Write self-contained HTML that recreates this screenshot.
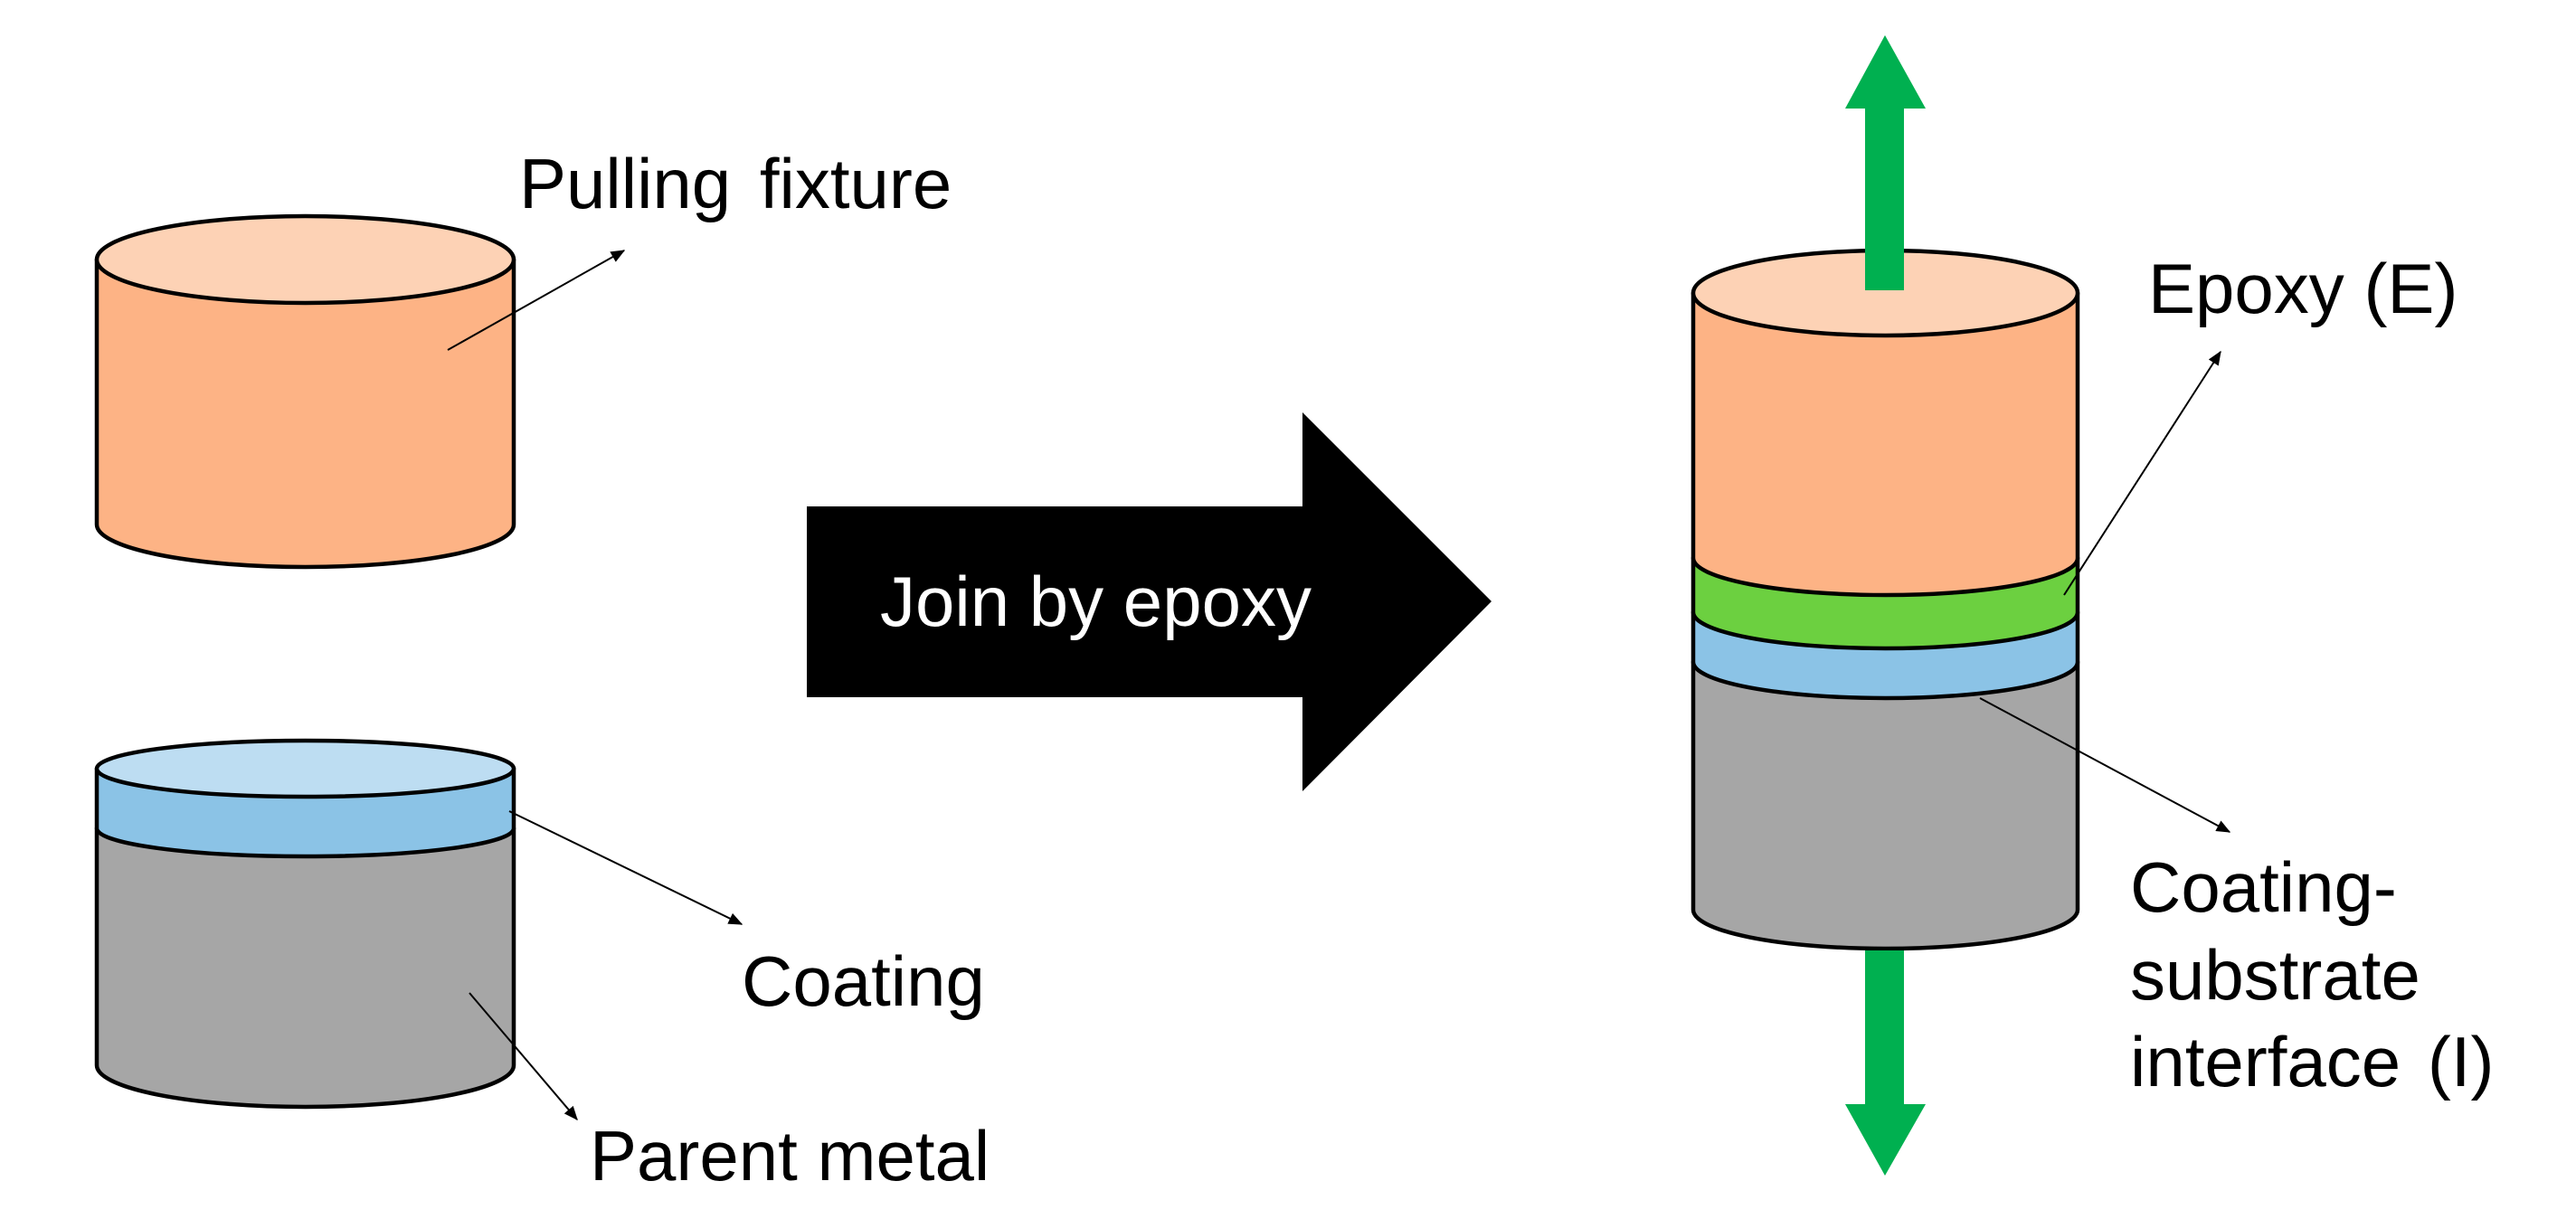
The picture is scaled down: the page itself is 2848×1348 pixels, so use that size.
<!DOCTYPE html>
<html><head><meta charset="utf-8"><style>
html,body{margin:0;padding:0;background:#fff;}
svg{display:block;}
text{font-family:"Liberation Sans",Arial,sans-serif;fill:#000;}
</style></head><body>
<svg width="2848" height="1348" viewBox="0 0 2848 1348" xmlns="http://www.w3.org/2000/svg">
<defs>
<marker id="a2" viewBox="0 0 12 10" refX="11" refY="5" markerWidth="16" markerHeight="13" orient="auto" markerUnits="userSpaceOnUse">
<path d="M0,0 L12,5 L0,10 z" fill="#000"/>
</marker>
</defs>
<g stroke="#000" stroke-width="4.5" stroke-linejoin="round">
<path d="M107,287 L107,580 A230.5,47 0 0 0 568,580 L568,287 Z" fill="#FDB385"/>
<ellipse cx="337.5" cy="287" rx="230.5" ry="48" fill="#FDD2B5"/>
<path d="M107,916 L107,1178 A230.5,46 0 0 0 568,1178 L568,916 Z" fill="#A6A6A6"/>
<path d="M107,850 L107,916 A230.5,31 0 0 0 568,916 L568,850 Z" fill="#8BC3E6"/>
<ellipse cx="337.5" cy="850" rx="230.5" ry="31" fill="#BDDDF2"/>
<path d="M1872,732 L1872,1006 A212.5,43 0 0 0 2297,1006 L2297,732 Z" fill="#A6A6A6"/>
<path d="M1872,677 L1872,732 A212.5,40 0 0 0 2297,732 L2297,677 Z" fill="#8BC3E6"/>
<path d="M1872,617 L1872,677 A212.5,40 0 0 0 2297,677 L2297,617 Z" fill="#6CD040"/>
<path d="M1872,324 L1872,617 A212.5,41 0 0 0 2297,617 L2297,324 Z" fill="#FDB385"/>
<ellipse cx="2084.5" cy="324" rx="212.5" ry="47" fill="#FDD2B5"/>
</g>
<path d="M2062,321 L2062,120 L2040,120 L2084,39 L2129,120 L2105,120 L2105,321 Z" fill="#00B050"/>
<path d="M2062,1051 L2062,1221 L2040,1221 L2084,1300 L2129,1221 L2105,1221 L2105,1051 Z" fill="#00B050"/>
<path d="M892,560 L1440,560 L1440,456 L1649,665 L1440,875 L1440,771 L892,771 Z" fill="#000"/>
<text x="973" y="692" font-size="78" style="fill:#fff">Join by epoxy</text>
<g stroke="#000" stroke-width="2" fill="none">
<line x1="495" y1="387" x2="690" y2="277" marker-end="url(#a2)"/>
<line x1="563" y1="897" x2="820" y2="1022" marker-end="url(#a2)"/>
<line x1="519" y1="1098" x2="638" y2="1238" marker-end="url(#a2)"/>
<line x1="2282" y1="658" x2="2455" y2="389" marker-end="url(#a2)"/>
<line x1="2189" y1="772" x2="2465" y2="920" marker-end="url(#a2)"/>
</g>
<text x="574" y="230" font-size="78" word-spacing="10">Pulling fixture</text>
<text x="820" y="1112" font-size="78">Coating</text>
<text x="652" y="1305" font-size="78">Parent metal</text>
<text x="2375" y="346" font-size="78">Epoxy (E)</text>
<text x="2355" y="1008" font-size="78">Coating-</text>
<text x="2355" y="1105" font-size="78">substrate</text>
<text x="2355" y="1201" font-size="78" word-spacing="8">interface (I)</text>
</svg>
</body></html>
